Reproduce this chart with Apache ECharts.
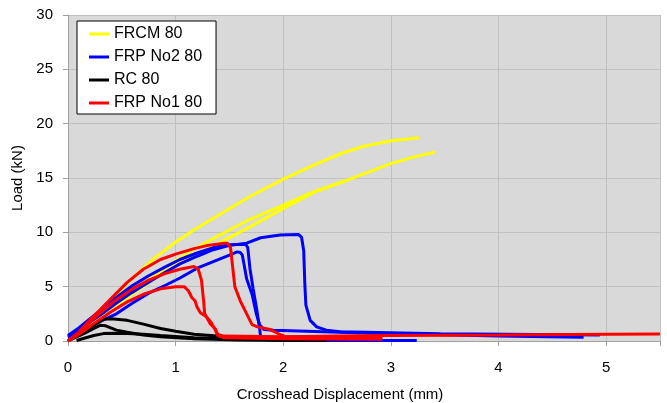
<!DOCTYPE html>
<html>
<head>
<meta charset="utf-8">
<script src="https://cdn.jsdelivr.net/npm/echarts@6/dist/echarts.min.js"></script>
<style>
html,body{margin:0;padding:0;background:#fff;}
#chart{width:667px;height:403px;}
</style>
</head>
<body>
<div id="chart"></div>
<script>
// ---- data: [displacement (mm), load (kN)] ----
const seriesNames = ['FRCM 80', 'FRP No2 80', 'RC 80', 'FRP No1 80'];
const seriesColors = ['#ffff00', '#0000ff', '#000000', '#ff0000'];
const xTicks = [0, 1, 2, 3, 4, 5];
const yTicks = [0, 5, 10, 15, 20, 25, 30];

const frcm1 = [[0,0],[0.2,1.7],[0.4,3.8],[0.6,5.8],[0.8,7.6],[1.0,9.1],[1.2,10.4],[1.4,11.6],[1.69,13.3],[2.0,14.9],[2.31,16.3],[2.55,17.3],[2.74,17.9],[2.99,18.4],[3.26,18.7]];
const frcm2 = [[0,0],[0.2,1.5],[0.4,3.1],[0.6,4.6],[0.8,6.0],[1.0,7.4],[1.2,8.6],[1.4,9.7],[1.69,11.2],[2.0,12.5],[2.25,13.6],[2.62,14.9],[2.99,16.3],[3.2,16.9],[3.41,17.4]];
const frcm3 = [[0,0],[0.2,1.4],[0.4,2.9],[0.6,4.3],[0.8,5.7],[1.0,7.0],[1.2,8.0],[1.4,9.0],[1.69,10.5],[2.0,12.2],[2.31,13.8],[2.6,14.8]];

const frp2a = [[0,0.4],[0.1,1.0],[0.2,1.7],[0.3,2.4],[0.45,3.5],[0.6,4.5],[0.75,5.4],[0.9,6.3],[1.04,7.1],[1.2,7.8],[1.35,8.4],[1.5,8.8],[1.66,9.0],[1.79,9.5],[1.97,9.75],[2.14,9.8],[2.17,9.55],[2.19,8.3],[2.2,5.3],[2.21,3.3],[2.25,1.9],[2.31,1.3],[2.4,1.0],[2.53,0.85],[3.46,0.66],[4.94,0.55]];
const frp2b = [[0,0.5],[0.1,1.2],[0.2,2.0],[0.3,2.8],[0.45,4.0],[0.6,5.1],[0.75,6.0],[0.9,6.8],[1.04,7.5],[1.2,8.1],[1.35,8.6],[1.5,8.85],[1.65,8.9],[1.67,8.6],[1.69,6.7],[1.72,4.8],[1.75,3.1],[1.78,1.2],[1.79,0.3],[1.85,0.1],[2.4,0.05],[3.24,0.05]];
const frp2c = [[0,0.3],[0.1,0.8],[0.2,1.3],[0.3,1.8],[0.45,2.5],[0.6,3.5],[0.75,4.4],[0.92,5.2],[1.04,5.8],[1.2,6.7],[1.35,7.3],[1.5,7.9],[1.57,8.2],[1.6,8.15],[1.62,7.9],[1.66,5.7],[1.71,4.3],[1.75,2.5],[1.78,1.5],[1.82,1.05],[1.91,1.0],[2.99,0.66],[3.46,0.57],[4.0,0.47],[4.79,0.35]];

const rc1 = [[0,0],[0.1,0.6],[0.2,1.2],[0.33,2.0],[0.4,2.05],[0.55,1.9],[0.7,1.55],[0.86,1.15],[1.0,0.9],[1.17,0.62],[1.48,0.4],[1.79,0.3],[2.2,0.2],[2.6,0.15]];
const rc2 = [[0,0],[0.15,0.7],[0.3,1.45],[0.35,1.4],[0.45,1.0],[0.55,0.8],[0.7,0.55],[0.86,0.4],[1.17,0.2],[1.6,0.1],[2.2,0.05]];
const rc3 = [[0.08,0.05],[0.15,0.25],[0.24,0.5],[0.33,0.68],[0.45,0.72],[0.55,0.7],[0.7,0.62],[0.86,0.5],[1.17,0.3],[1.48,0.2],[2.0,0.1],[2.4,0.05]];

const frp1a = [[0,0],[0.1,0.8],[0.2,1.9],[0.3,2.9],[0.4,3.9],[0.55,5.4],[0.7,6.6],[0.86,7.5],[1.0,8.0],[1.17,8.5],[1.3,8.8],[1.45,9.0],[1.48,9.0],[1.51,8.6],[1.53,6.8],[1.55,5.0],[1.6,3.7],[1.66,2.5],[1.71,1.5],[1.76,1.3],[1.88,1.05],[1.97,0.6],[2.02,0.4],[2.5,0.45],[3,0.5],[4,0.55],[5,0.62],[5.5,0.65]];
const frp1b = [[0,0],[0.1,0.8],[0.2,1.7],[0.3,2.6],[0.45,3.8],[0.6,4.8],[0.75,5.6],[0.9,6.2],[1.04,6.6],[1.17,6.85],[1.21,6.6],[1.24,5.6],[1.26,3.7],[1.27,2.5],[1.32,1.6],[1.37,1.1],[1.39,0.6],[1.45,0.45],[2,0.4],[2.92,0.3]];
const frp1c = [[0,0],[0.1,0.6],[0.24,1.6],[0.4,2.7],[0.55,3.6],[0.7,4.3],[0.86,4.8],[1.0,5.0],[1.08,5.0],[1.12,4.6],[1.15,4.0],[1.18,3.7],[1.2,3.1],[1.23,2.6],[1.29,2.2],[1.33,1.7],[1.37,1.0],[1.39,0.5],[1.45,0.3],[2,0.2],[2.92,0.15]];

const groups = [
  [frcm1, frcm2, frcm3],
  [frp2a, frp2b, frp2c],
  [rc1, rc2, rc3],
  [frp1a, frp1b, frp1c]
];

const series = [];
groups.forEach((curves, gi) => {
  curves.forEach(d => {
    series.push({
      name: seriesNames[gi],
      type: 'line',
      data: d,
      symbol: 'none',
      showSymbol: false,
      color: seriesColors[gi],
      lineStyle: { width: 3, color: seriesColors[gi] },
      emphasis: { disabled: true },
      silent: true
    });
  });
});

const font = 'Arial, "Liberation Sans", sans-serif';
const chart = echarts.init(document.getElementById('chart'), null, { renderer: 'canvas' });
chart.setOption({
  animation: false,
  backgroundColor: '#ffffff',
  textStyle: { fontFamily: font },
  grid: {
    left: 68, right: 7, top: 15, bottom: 62,
    containLabel: false,
    outerBoundsMode: 'none',
    show: true, backgroundColor: '#d9d9d9', borderWidth: 0
  },
  legend: {
    data: seriesNames,
    orient: 'vertical',
    left: 77, top: 21,
    backgroundColor: '#ffffff',
    borderColor: '#000000', borderWidth: 1, borderRadius: 0,
    padding: [5, 14, 3, 12],
    icon: 'rect',
    itemWidth: 20, itemHeight: 3, itemGap: 7,
    itemStyle: { borderWidth: 0 },
    textStyle: { fontFamily: font, fontSize: 16, color: '#000', lineHeight: 16 },
    selectedMode: false
  },
  xAxis: {
    type: 'value', min: 0, max: 5.5, interval: 1,
    name: 'Crosshead Displacement (mm)',
    nameLocation: 'middle', nameGap: 46,
    nameTextStyle: { fontFamily: font, fontSize: 15, color: '#000', padding: [0, 48, 0, 0] },
    axisLine: { show: true, lineStyle: { color: '#a0a0a0', width: 1 } },
    axisTick: { show: true, inside: false, length: 5, lineStyle: { color: '#a0a0a0' } },
    axisLabel: {
      fontFamily: font, fontSize: 15, color: '#000', margin: 19,
      formatter: v => (xTicks.indexOf(v) >= 0 ? String(v) : '')
    },
    splitLine: { show: true, lineStyle: { color: '#c0c0c0', width: 1 } }
  },
  yAxis: {
    type: 'value', min: 0, max: 30, interval: 5,
    name: 'Load (kN)',
    nameLocation: 'middle', nameGap: 28,
    nameTextStyle: { fontFamily: font, fontSize: 15, color: '#000' },
    axisLine: { show: true, lineStyle: { color: '#a0a0a0', width: 1 } },
    axisTick: { show: true, inside: false, length: 5, lineStyle: { color: '#a0a0a0' } },
    axisLabel: {
      fontFamily: font, fontSize: 15, color: '#000', margin: 15,
      formatter: v => (yTicks.indexOf(v) >= 0 ? String(v) : '')
    },
    splitLine: { show: true, lineStyle: { color: '#c0c0c0', width: 1 } }
  },
  series: series
});
</script>
</body>
</html>
